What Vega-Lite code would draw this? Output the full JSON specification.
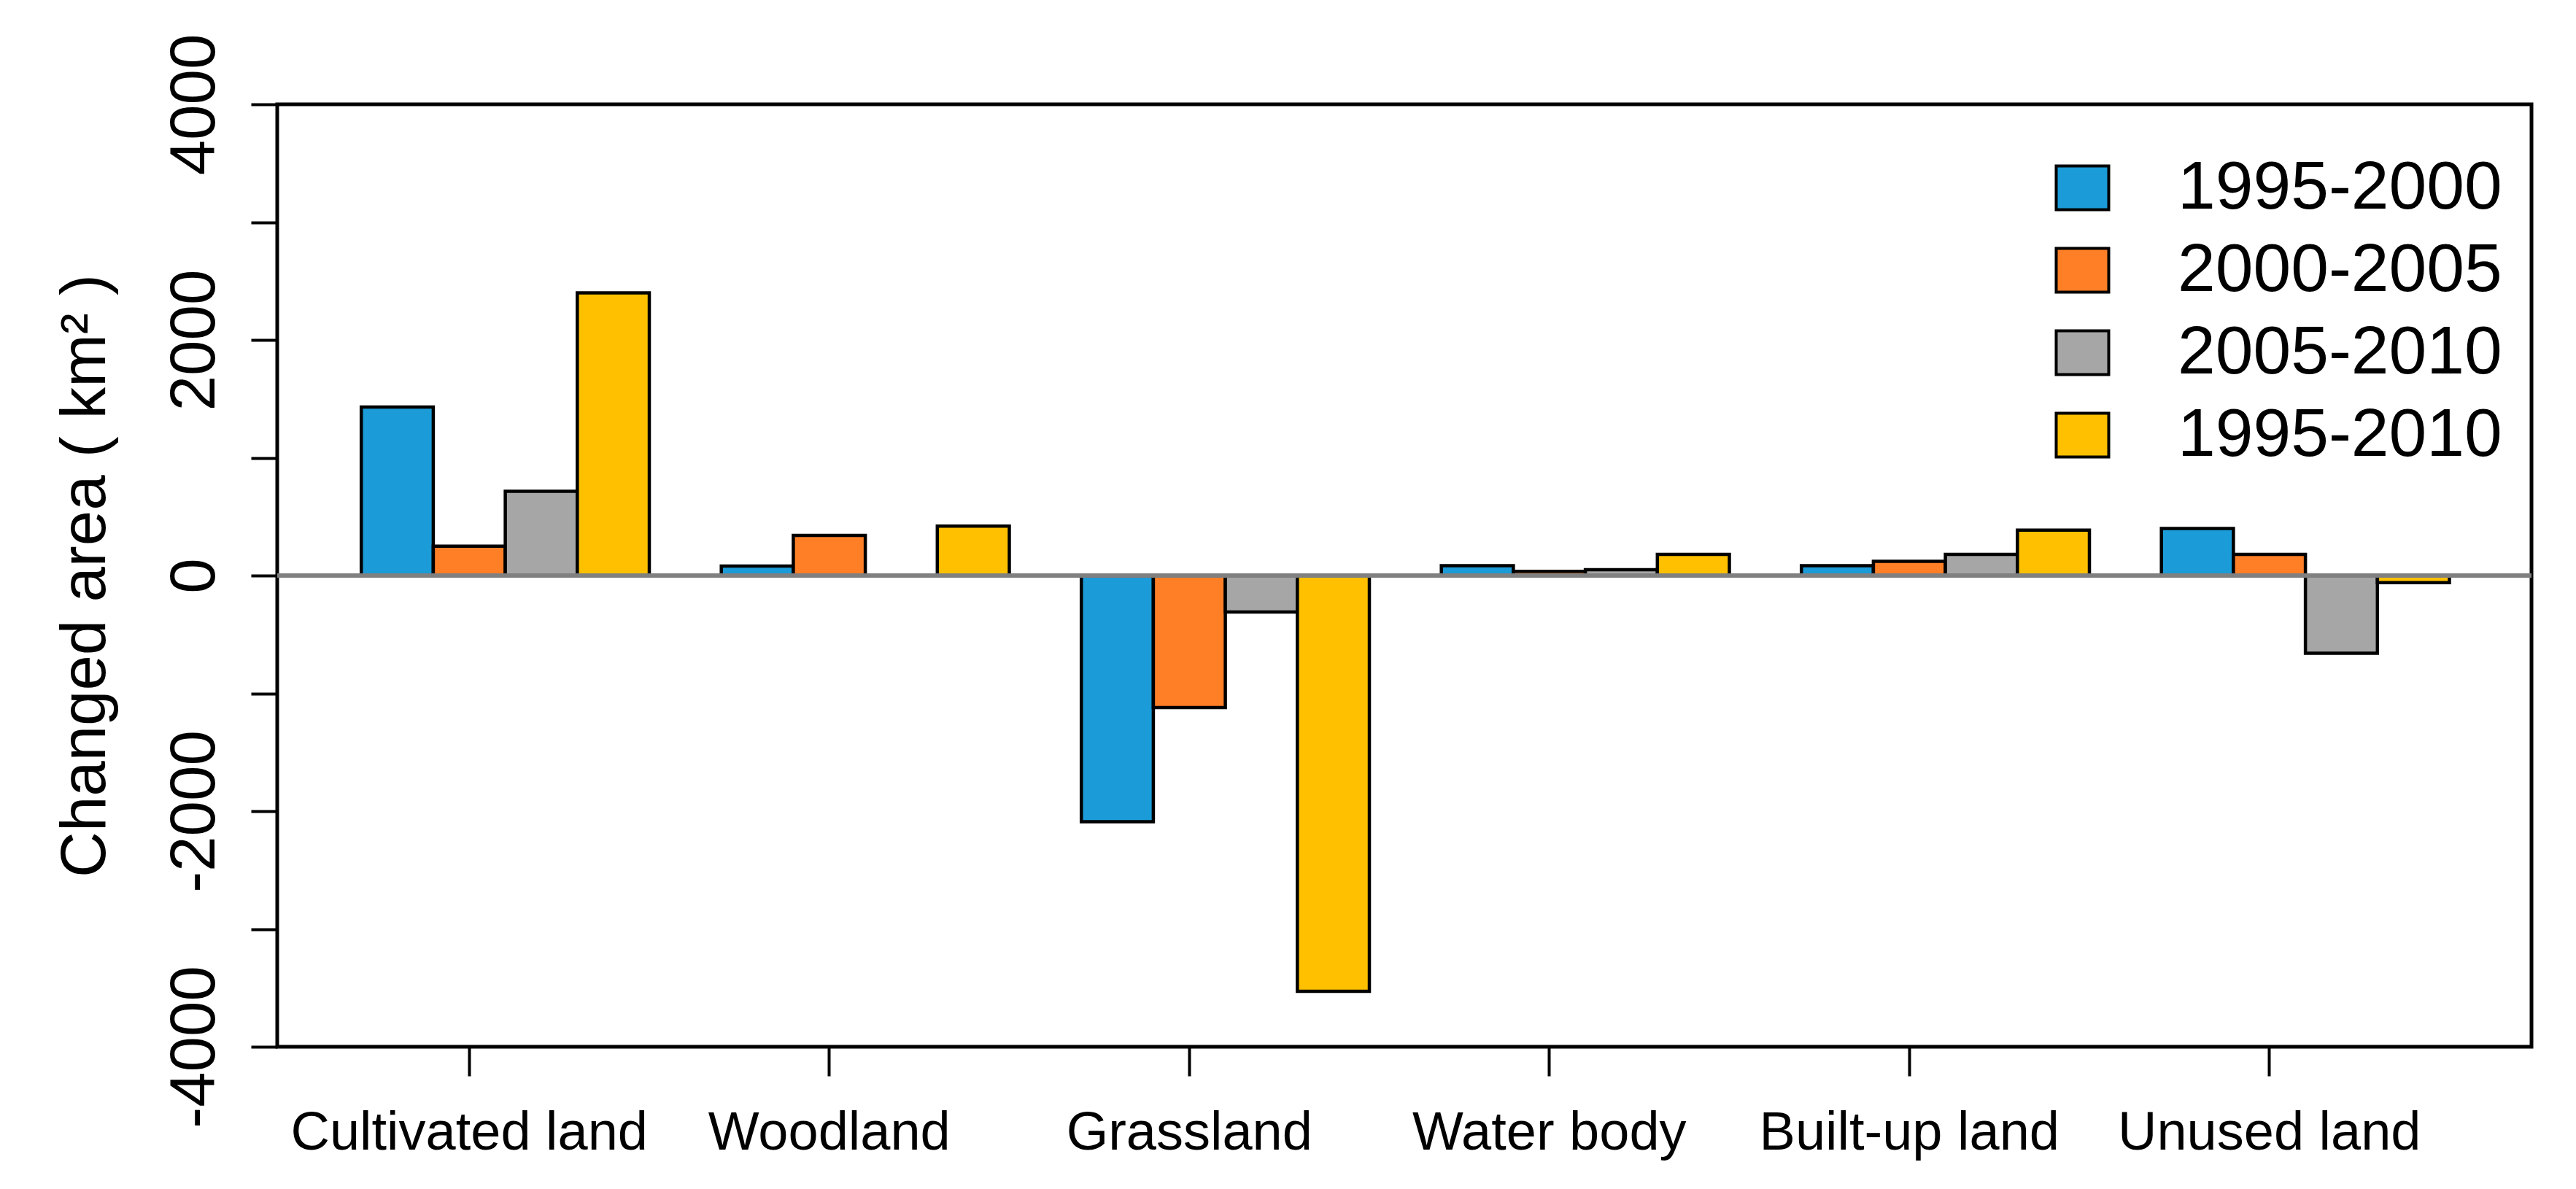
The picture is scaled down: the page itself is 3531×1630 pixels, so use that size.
{
  "$schema": "https://vega.github.io/schema/vega-lite/v6.json",
  "autosize": {"type": "none"},
  "padding": {"left": 380, "top": 143, "right": 61, "bottom": 195},
  "width": 3090,
  "height": 1292,
  "background": "white",
  "data": {
    "values": [
      {"land": "Cultivated land", "period": "1995-2000", "area": 1430},
      {"land": "Cultivated land", "period": "2000-2005", "area": 250},
      {"land": "Cultivated land", "period": "2005-2010", "area": 715},
      {"land": "Cultivated land", "period": "1995-2010", "area": 2400},
      {"land": "Woodland", "period": "1995-2000", "area": 80},
      {"land": "Woodland", "period": "2000-2005", "area": 340},
      {"land": "Woodland", "period": "2005-2010", "area": 0},
      {"land": "Woodland", "period": "1995-2010", "area": 420},
      {"land": "Grassland", "period": "1995-2000", "area": -2090},
      {"land": "Grassland", "period": "2000-2005", "area": -1120},
      {"land": "Grassland", "period": "2005-2010", "area": -310},
      {"land": "Grassland", "period": "1995-2010", "area": -3530},
      {"land": "Water body", "period": "1995-2000", "area": 83},
      {"land": "Water body", "period": "2000-2005", "area": 35},
      {"land": "Water body", "period": "2005-2010", "area": 50},
      {"land": "Water body", "period": "1995-2010", "area": 180},
      {"land": "Built-up land", "period": "1995-2000", "area": 83},
      {"land": "Built-up land", "period": "2000-2005", "area": 120},
      {"land": "Built-up land", "period": "2005-2010", "area": 180},
      {"land": "Built-up land", "period": "1995-2010", "area": 385},
      {"land": "Unused land", "period": "1995-2000", "area": 400},
      {"land": "Unused land", "period": "2000-2005", "area": 180},
      {"land": "Unused land", "period": "2005-2010", "area": -660},
      {"land": "Unused land", "period": "1995-2010", "area": -60}
    ]
  },
  "config": {
    "view": {"stroke": "black", "strokeWidth": 5},
    "font": "Liberation Sans",
    "axis": {"labelColor": "black", "titleColor": "black", "labelFont": "Liberation Sans", "titleFont": "Liberation Sans", "grid": false, "labelLimit": 0},
    "legend": {"labelFont": "Liberation Sans", "labelColor": "black", "labelLimit": 0}
  },
  "layer": [
    {
      "mark": {"type": "bar", "stroke": "black", "strokeWidth": 4.5, "opacity": 1},
      "encoding": {
        "x": {
          "field": "land",
          "type": "nominal",
          "sort": ["Cultivated land", "Woodland", "Grassland", "Water body", "Built-up land", "Unused land"],
          "scale": {"paddingInner": 0, "paddingOuter": 0.1307, "align": 0.128},
          "axis": {
            "title": null,
            "labelAngle": 0,
            "labelFontSize": 74,
            "labelBaseline": "alphabetic",
            "labelPadding": 100,
            "labelLimit": 0,
            "tickSize": 40,
            "tickWidth": 4,
            "tickColor": "black",
            "domain": false,
            "labelOverlap": false,
            "labelBound": false,
            "labelFlush": false
          }
        },
        "xOffset": {
          "field": "period",
          "type": "nominal",
          "scale": {"domain": ["gap", "1995-2000", "2000-2005", "2005-2010", "1995-2010"], "paddingInner": 0, "paddingOuter": 0}
        },
        "y": {
          "field": "area",
          "type": "quantitative",
          "scale": {"domain": [-4000, 4000], "nice": false, "zero": false},
          "axis": {
            "title": "Changed area ( km² )",
            "titleFontSize": 87,
            "titleFontWeight": "normal",
            "titleAngle": -90,
            "titleAlign": "center",
            "titleBaseline": "alphabetic",
            "titleX": -237,
            "titleY": 646,
            "values": [-4000, -3000, -2000, -1000, 0, 1000, 2000, 3000, 4000],
            "labelExpr": "datum.value % 2000 === 0 ? '' + datum.value : ''",
            "labelAngle": -90,
            "labelAlign": "center",
            "labelBaseline": "alphabetic",
            "labelFontSize": 87,
            "labelPadding": 51,
            "labelLimit": 0,
            "tickSize": 36,
            "tickWidth": 4,
            "tickColor": "black",
            "domain": false,
            "labelOverlap": false,
            "labelBound": false,
            "labelFlush": false
          }
        },
        "color": {
          "field": "period",
          "type": "nominal",
          "scale": {
            "domain": ["1995-2000", "2000-2005", "2005-2010", "1995-2010"],
            "range": ["#1B9BD7", "#FF7F27", "#A6A6A6", "#FFC000"]
          },
          "legend": {
            "title": null,
            "orient": "none",
            "legendX": 2428,
            "legendY": 68,
            "padding": 0,
            "labelFontSize": 93,
            "labelOffset": 84,
            "labelLimit": 0,
            "rowPadding": 19,
            "symbolType": "M-1,-0.833H1V0.833H-1Z",
            "symbolSize": 5184,
            "symbolStrokeColor": "black",
            "symbolStrokeWidth": 4,
            "symbolOpacity": 1
          }
        }
      }
    },
    {
      "mark": {"type": "rule", "color": "#808080", "strokeWidth": 5},
      "encoding": {"y": {"datum": 0}}
    }
  ]
}
